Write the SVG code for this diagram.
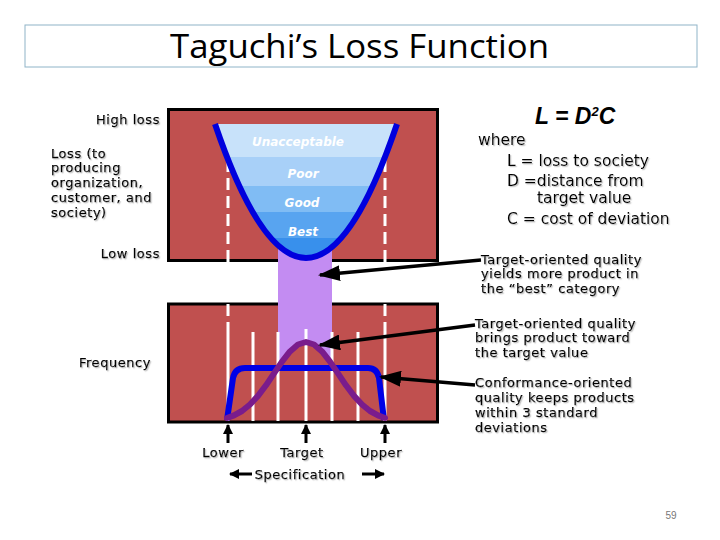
<svg xmlns="http://www.w3.org/2000/svg" width="720" height="540" viewBox="0 0 720 540">
<style>
.t{font-family:"DejaVu Sans",Verdana,sans-serif;font-size:13px;letter-spacing:0.55px;fill:#000;stroke:#000;stroke-width:0.25;filter:url(#sh)}
.f{font-family:"DejaVu Sans",Verdana,sans-serif;font-size:15.5px;fill:#000;filter:url(#sh)}
.band{font-family:"DejaVu Sans",Verdana,sans-serif;font-size:12px;font-weight:bold;font-style:italic;fill:#fff;text-anchor:middle}
.box{fill:#c0504f;stroke:#000;stroke-width:3}
.wl{stroke:#fff;stroke-width:3;fill:none}
.arr{stroke:#000;stroke-width:3.5;fill:none;marker-end:url(#big)}
.sarr{stroke:#000;stroke-width:3;fill:none;marker-end:url(#small)}
</style>
<defs>
<filter id="sh" x="-10%" y="-30%" width="120%" height="160%">
<feDropShadow dx="1.2" dy="1.2" stdDeviation="0.6" flood-color="#999" flood-opacity="0.6"/>
</filter>
<marker id="big" markerUnits="userSpaceOnUse" markerWidth="22" markerHeight="16" refX="20" refY="8" orient="auto">
<path d="M0,0 L22,8 L0,16 Z" fill="#000"/>
</marker>
<marker id="small" markerUnits="userSpaceOnUse" markerWidth="10" markerHeight="10" refX="9" refY="5" orient="auto">
<path d="M0,0 L10,5 L0,10 Z" fill="#000"/>
</marker>
<clipPath id="para">
<path d="M215,124 Q306,392 397,124 Z"/>
</clipPath>
</defs>
<rect width="720" height="540" fill="#fff"/>
<g id="title">
<rect x="25" y="25" width="672" height="42" fill="none" stroke="#8fb4c8" stroke-width="1"/>
<text x="170" y="58" textLength="379" lengthAdjust="spacingAndGlyphs" style="font-family:'Open Sans','Noto Sans',sans-serif;font-size:33px;fill:#000">Taguchi’s Loss Function</text>
</g>
<g id="loss-box">
<rect class="box" x="168.5" y="109.5" width="269" height="151"/>
</g>
<g id="freq-box">
<rect class="box" x="168.5" y="304" width="269" height="118"/>
</g>
<g id="column">
<path d="M278,240 L332,240 L332,364.4 L330,361.6 L322,351.4 L314,344.5 L306,342 L298,344.5 L290,351.4 L282,361.6 L278,367.4 Z" fill="#c38cf2"/>
</g>
<g id="spec-lines">
<path class="wl" d="M228,160 V322 M385,160 V322" stroke-dasharray="12 6"/>
<path class="wl" d="M228,322 V421 M385,322 V421 M253,332 V421 M278,332 V421 M306,329 V421 M332,332 V421 M358,332 V421"/>
</g>
<g id="loss-curve">
<g clip-path="url(#para)">
<rect x="200" y="120" width="210" height="37" fill="#c8e2fa"/>
<rect x="200" y="157" width="210" height="29" fill="#a8d0f8"/>
<rect x="200" y="186" width="210" height="26" fill="#80bcf4"/>
<rect x="200" y="212" width="210" height="26" fill="#58a4f0"/>
<rect x="200" y="238" width="210" height="30" fill="#3890ec"/>
</g>
<path d="M215,124 Q306,392 397,124" fill="none" stroke="#0000dd" stroke-width="6"/>
<text class="band" x="298" y="145.5">Unacceptable</text>
<text class="band" x="303" y="178">Poor</text>
<text class="band" x="302" y="206.5">Good</text>
<text class="band" x="303" y="236">Best</text>
</g>
<g id="conformance-curve">
<path d="M227,420 L233,378 Q235,368 245,368 L368,368 Q377,368 379,378 L384,420" fill="none" stroke="#0000e6" stroke-width="6" stroke-linejoin="round"/>
</g>
<g id="target-curve">
<path d="M227,418 L234,415.4 L242,411 L250,404.5 L258,395.9 L266,385.3 L274,373.4 L282,361.6 L290,351.4 L298,344.5 L306,342 L314,344.5 L322,351.4 L330,361.6 L338,373.4 L346,385.3 L354,395.9 L362,404.5 L370,411 L378,415.4 L385,418" fill="none" stroke="#7a1c8c" stroke-width="6" stroke-linejoin="round" stroke-linecap="round"/>
</g>
<g id="connectors">
<line class="arr" x1="481" y1="260" x2="320" y2="275"/>
<line class="arr" x1="475" y1="325" x2="320" y2="345"/>
<line class="arr" x1="475" y1="385" x2="381" y2="377"/>
<line class="sarr" x1="228" y1="443" x2="228" y2="425"/>
<line class="sarr" x1="306" y1="443" x2="306" y2="425"/>
<line class="sarr" x1="385" y1="443" x2="385" y2="425"/>
<line class="sarr" x1="252" y1="474" x2="230" y2="474"/>
<line class="sarr" x1="362" y1="474" x2="384" y2="474"/>
</g>
<g id="axis-labels">
<text class="t" x="160" y="124" text-anchor="end">High loss</text>
<text class="t" x="51" y="158">Loss (to</text>
<text class="t" x="51" y="172">producing</text>
<text class="t" x="51" y="187">organization,</text>
<text class="t" x="51" y="202">customer, and</text>
<text class="t" x="51" y="217">society)</text>
<text class="t" x="160" y="258" text-anchor="end">Low loss</text>
<text class="t" x="151" y="367" text-anchor="end">Frequency</text>
<text class="t" x="223" y="457" text-anchor="middle">Lower</text>
<text class="t" x="302" y="457" text-anchor="middle">Target</text>
<text class="t" x="381" y="457" text-anchor="middle">Upper</text>
<text class="t" x="300" y="479" text-anchor="middle">Specification</text>
</g>
<g id="formula">
<text x="535" y="124" style="font-family:'Liberation Sans',Arial,sans-serif;font-size:23px;font-weight:bold;font-style:italic;fill:#000">L = D<tspan font-size="13" dy="-8">2</tspan><tspan dy="8">C</tspan></text>
<text class="f" x="478" y="145">where</text>
<text class="f" x="507" y="166">L = loss to society</text>
<text class="f" x="507" y="186">D =distance from</text>
<text class="f" x="537" y="203">target value</text>
<text class="f" x="507" y="224">C = cost of deviation</text>
</g>
<g id="annotations">
<text class="t" x="481" y="264">Target-oriented quality</text>
<text class="t" x="481" y="278">yields more product in</text>
<text class="t" x="481" y="293">the “best” category</text>
<text class="t" x="475" y="328">Target-oriented quality</text>
<text class="t" x="475" y="342">brings product toward</text>
<text class="t" x="475" y="357">the target value</text>
<text class="t" x="475" y="387">Conformance-oriented</text>
<text class="t" x="475" y="402">quality keeps products</text>
<text class="t" x="475" y="417">within 3 standard</text>
<text class="t" x="475" y="432">deviations</text>
</g>
<text x="671" y="519" text-anchor="middle" style="font-family:'Liberation Sans',Arial,sans-serif;font-size:10px;fill:#777">59</text>
</svg>
